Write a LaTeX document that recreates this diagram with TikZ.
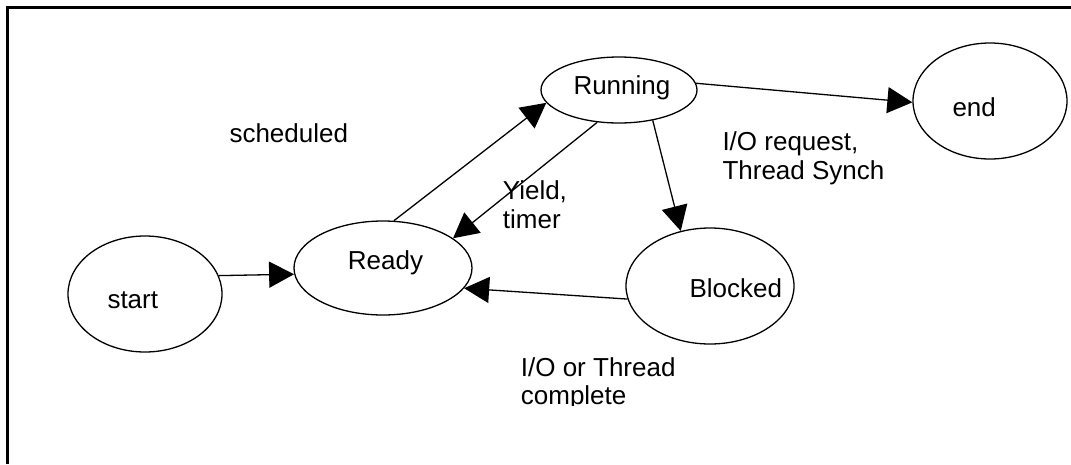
\documentclass[tikz,border=0pt]{standalone}
\usepackage{fontspec}
\setmainfont{Liberation Sans}
\usetikzlibrary{arrows.meta,shapes.geometric}
\tikzset{
  stateel/.style={draw,ellipse,line width=1.3pt,inner sep=0pt},
  txt/.style={font=\fontsize{26}{28.6}\selectfont,inner sep=0pt,anchor=base west,align=left},
  trans/.style={-{Triangle[length=25pt,width=26pt]},line width=1.3pt},
  frame/.style={line width=2.6pt}
}
\begin{document}
\begin{tikzpicture}[x=1pt,y=-1pt]
  \useasboundingbox (0,0) rectangle (1071,464);
  \draw[frame] (7.5,464) -- (7.5,7.3) -- (1071,7.3);

  \node[stateel,minimum width=154pt,minimum height=116pt] (start) at (145,294) {};
  \node[stateel,minimum width=178pt,minimum height=94pt] (ready) at (383,268) {};
  \node[stateel,minimum width=156pt,minimum height=66pt] (running) at (619,90) {};
  \node[stateel,minimum width=154pt,minimum height=116pt] (fin) at (990,101) {};
  \node[stateel,minimum width=168pt,minimum height=116pt] (blocked) at (710,286) {};

  \node[txt] (start-lbl) at (107.3,308.3) {start};
  \node[txt] (ready-lbl) at (347.7,269.3) {Ready};
  \node[txt] (running-lbl) at (573.3,94) {Running};
  \node[txt] (fin-lbl) at (952.3,116.7) {end};
  \node[txt] (blocked-lbl) at (689.3,297.3) {Blocked};

  \draw[trans] (start.14) -- (ready.184);
  \draw[trans] (ready.77) -- (running.190);
  \draw[trans] (running.236) -- (ready.23);
  \draw[trans] (running.5) -- (fin.181);
  \draw[trans] (running.318) -- (blocked.118);
  \draw[trans] (blocked.189) -- (ready.346);

  \node[txt] (sched-lbl) at (229.3,142.3) {scheduled};
  \node[txt] (yield-lbl) at (502.7,228.5) {Yield,\\timer};
  \node[txt] (io-lbl) at (722.3,179.3) {I/O request,\\Thread Synch};
  \begin{scope}
    \clip (0,0) rectangle (1071,405);
    \node[txt] (done-lbl) at (520.7,404.6) {I/O or Thread\\complete};
  \end{scope}
\end{tikzpicture}
\end{document}
